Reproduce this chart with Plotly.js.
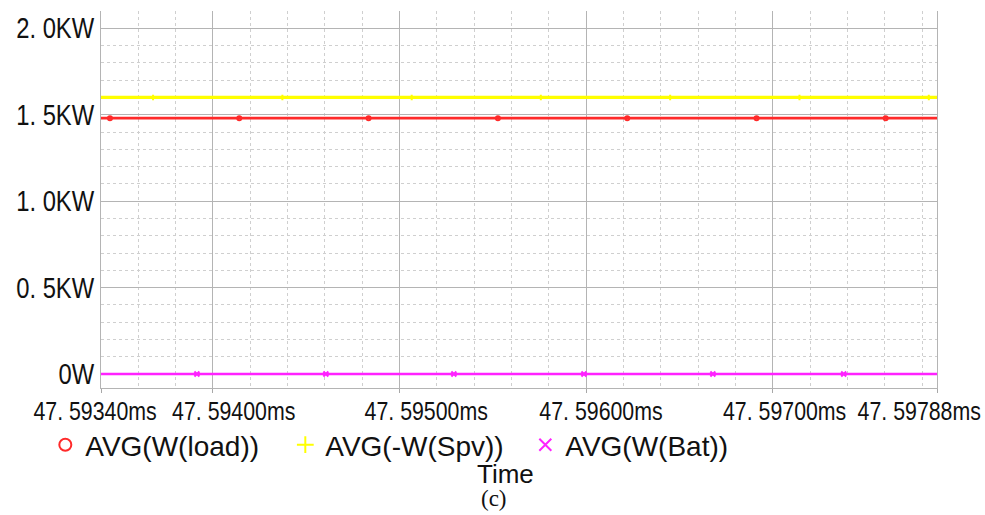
<!DOCTYPE html>
<html>
<head>
<meta charset="utf-8">
<script src="https://cdn.plot.ly/plotly-3.0.1.min.js"></script>
<style>
  html, body { margin: 0; padding: 0; background: #fff; }
  #chart { width: 985px; height: 515px; }
</style>
</head>
<body>
<div id="chart"></div>
<script>
// Time window of the simulation trace (ms)
const timeStart = 47.5934;
const timeEnd = 47.59788;

// Averaged power levels (W)
const loadPower = 1480;
const pvPower = 1600;
const batPower = 0;

// Sample instants where the probe symbols sit on each trace (ms)
const loadMarkTimes = [47.593448, 47.594141, 47.594834, 47.595527, 47.596220, 47.596913, 47.597605];
const pvMarkTimes   = [47.593679, 47.594372, 47.595065, 47.595757, 47.596450, 47.597143, 47.597836];
const batMarkTimes  = [47.593914, 47.594605, 47.595291, 47.595988, 47.596679, 47.597380];

// Axis ticks
const xTickVals = [47.5934, 47.594, 47.595, 47.596, 47.597, 47.59788];
const xTickText = ["47. 59340ms", "47. 59400ms", "47. 59500ms", "47. 59600ms", "47. 59700ms", "47. 59788ms"];
// small per-label offsets so neighbouring labels do not collide
const xLabelPadLeft  = [0, 7, 9, 5, 4, 0];
const xLabelPadRight = [2, 0, 0, 0, 0, 6];
const yTickVals = [0, 500, 1000, 1500, 2000];
const yTickText = ["0W", "0. 5KW", "1. 0KW", "1. 5KW", "2. 0KW"];

const NB = "\u00a0";
const xTickLabels = xTickText.map((t, i) => NB.repeat(xLabelPadLeft[i]) + t + NB.repeat(xLabelPadRight[i]));

const series = [
  { name: "AVG(W(load))",  value: loadPower, marks: loadMarkTimes, color: "#ff2a2a", width: 2.6, symbol: "circle-open", msize: 4 },
  { name: "AVG(-W(Spv))",  value: pvPower,   marks: pvMarkTimes,   color: "#ffff00", width: 3.2, symbol: "cross-thin-open", msize: 4 },
  { name: "AVG(W(Bat))",   value: batPower,  marks: batMarkTimes,  color: "#ff22ff", width: 2.6, symbol: "x-thin-open", msize: 5 }
];

const traces = [];
series.forEach(s => {
  traces.push({
    type: "scatter", mode: "lines",
    x: [timeStart, timeEnd], y: [s.value, s.value],
    line: { color: s.color, width: s.width },
    showlegend: false, hoverinfo: "skip"
  });
});
series.forEach(s => {
  traces.push({
    type: "scatter", mode: "markers", name: s.name,
    x: s.marks, y: s.marks.map(() => s.value),
    marker: { symbol: s.symbol, size: s.msize, color: s.color, line: { color: s.color, width: 2 } },
    showlegend: true
  });
});

const sans = "Liberation Sans, Arial, sans-serif";

// plot area in pixels, used to place the free-standing captions
const plotLeft = 101, plotWidth = 836, plotBottom = 388, plotHeight = 377;
const px = x => (x - plotLeft) / plotWidth;
const py = y => (plotBottom - y) / plotHeight;

const layout = {
  width: 985, height: 515,
  margin: { l: plotLeft, r: 985 - plotLeft - plotWidth, t: plotBottom - plotHeight, b: 515 - plotBottom },
  paper_bgcolor: "#ffffff", plot_bgcolor: "#ffffff",
  showlegend: true,
  legend: {
    orientation: "h", xref: "container", yref: "container",
    x: 0.046, xanchor: "left", y: 1 - 445 / 515, yanchor: "middle",
    entrywidth: 195, entrywidthmode: "pixels",
    itemsizing: "constant", itemwidth: 30,
    font: { family: sans, size: 28, color: "#111" },
    bgcolor: "rgba(0,0,0,0)", borderwidth: 0
  },
  xaxis: {
    range: [timeStart, timeEnd],
    tickmode: "array", tickvals: xTickVals, ticktext: xTickLabels,
    tickangle: 0, ticklabeloverflow: "allow", ticklabelstandoff: -4,
    tickfont: { family: sans, size: 26, color: "#111" },
    ticks: "outside", ticklen: 4, tickcolor: "#a8a8a8", tickwidth: 1,
    showline: true, linecolor: "#b4b4b4", linewidth: 1,
    showgrid: true, gridcolor: "#b4b4b4", gridwidth: 1,
    minor: { tick0: timeStart, dtick: 0.0002, showgrid: true, gridcolor: "#cfcfcf", griddash: "dot", gridwidth: 1 },
    zeroline: false
  },
  yaxis: {
    range: [-81, 2100],
    tickmode: "array", tickvals: yTickVals, ticktext: yTickText,
    ticklabeloverflow: "allow",
    tickfont: { family: sans, size: 29, color: "#111" },
    ticks: "", ticklabelstandoff: 0,
    showline: true, linecolor: "#b4b4b4", linewidth: 1, mirror: true,
    showgrid: true, gridcolor: "#b4b4b4", gridwidth: 1,
    minor: { tick0: 0, dtick: 100, showgrid: true, gridcolor: "#cfcfcf", griddash: "dot", gridwidth: 1 },
    zeroline: false
  },
  annotations: [
    { text: "Time", xref: "paper", yref: "paper", x: px(505), y: py(474),
      xanchor: "center", yanchor: "middle", showarrow: false,
      font: { family: sans, size: 26, color: "#111" } },
    { text: "(c)", xref: "paper", yref: "paper", x: px(494), y: py(499),
      xanchor: "center", yanchor: "middle", showarrow: false,
      font: { family: "Liberation Serif, Times New Roman, serif", size: 23, color: "#111" } }
  ]
};

// The axis labels use a condensed face; squeeze the glyphs horizontally.
function condenseTickLabels(gd) {
  gd.querySelectorAll(".xtick text, .ytick text").forEach(t => {
    const len = t.getComputedTextLength();
    if (len > 0) {
      t.setAttribute("textLength", (len * 0.82).toFixed(1));
      t.setAttribute("lengthAdjust", "spacingAndGlyphs");
    }
  });
}

Plotly.newPlot("chart", traces, layout, { displayModeBar: false, staticPlot: true })
  .then(condenseTickLabels);
</script>
</body>
</html>
